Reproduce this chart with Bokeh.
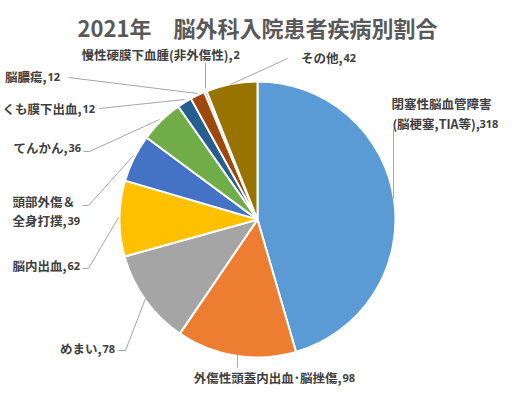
import numpy as np
from bokeh.plotting import figure
from bokeh.models import Range1d, ColumnDataSource
from bokeh.core.properties import value
from bokeh.embed import file_html
from bokeh.resources import INLINE

# ---- data ----
title_text = "2021年　脳外科入院患者疾病別割合"
categories = ["閉塞性脳血管障害\n(脳梗塞,TIA等)", "外傷性頭蓋内出血･脳挫傷", "めまい", "脳内出血",
              "頭部外傷＆\n全身打撲", "てんかん", "くも膜下出血", "脳膿瘍",
              "慢性硬膜下血腫(非外傷性)", "その他"]
values = [318, 98, 78, 62, 39, 36, 12, 12, 2, 42]

# ---- style ----
colors = ["#5B9BD5", "#ED7D31", "#A5A5A5", "#FFC000", "#4472C4",
          "#70AD47", "#255E91", "#9E480E", "#636363", "#997300"]
W, H = 514, 393
def Y(py):
    return H - py

cx, cy, R = 257, Y(219), 138

# label layout (page px): split x (end of name / start of value), y of last line,
# (x, y) of first line for two-line labels
label_layout = [
    (478, 123, (391, 103)),
    (341, 377, None),
    (101, 348, None),
    (66, 265, None),
    (66, 220, (12, 201)),
    (67, 147, None),
    (81, 108, None),
    (46, 76, None),
    (232, 54, None),
    (342, 57, None),
]
# leader lines (page px), from label side to slice
leaders = [
    [(393, 129), (393, 198)],
    [(237, 367), (237, 353)],
    [(118, 350), (125, 350), (145, 298)],
    [(82, 268), (88, 268), (118, 217)],
    [(82, 205), (88, 205), (133, 155)],
    [(83, 151), (89, 151), (159, 119)],
    [(99, 108), (184, 99)],
    [(68, 77), (197, 93)],
    [(205, 62), (205, 88)],
    [(287, 58), (230, 84)],
]

vals = np.array(values, dtype=float)
frac = vals / vals.sum()
cum_end = np.cumsum(frac)
cum_start = cum_end - frac
start_ang = np.pi / 2 - 2 * np.pi * cum_end
end_ang = np.pi / 2 - 2 * np.pi * cum_start

p = figure(width=W, height=H, output_backend="svg", toolbar_location=None,
           x_range=Range1d(0, W), y_range=Range1d(Y(H), Y(0)),
           min_border=0, outline_line_color=None)
p.xaxis.visible = False
p.yaxis.visible = False
p.grid.visible = False
p.background_fill_color = "white"

src = ColumnDataSource(dict(start=start_ang, end=end_ang, color=colors))
p.wedge(x=cx, y=cy, radius=R, start_angle="start", end_angle="end",
        fill_color="color", line_color="white", line_width=2, source=src)

# leader lines
xs = [[pt[0] for pt in l] for l in leaders]
ys = [[Y(pt[1]) for pt in l] for l in leaders]
p.multi_line(xs=xs, ys=ys, line_color="#A6A6A6", line_width=1)

name_font = value("Noto Sans CJK JP")
lbl_color = "#404040"

nx, ny, ntext = [], [], []
fx, fy, ftext = [], [], []
vx, vy, vtext = [], [], []
for cat, v, lay in zip(categories, values, label_layout):
    lines = cat.split("\n")
    sx, sy, first = lay
    nx.append(sx); ny.append(Y(sy)); ntext.append(lines[-1] + ",")
    vx.append(sx + 1); vy.append(Y(sy)); vtext.append(str(v))
    if len(lines) > 1 and first is not None:
        fx.append(first[0]); fy.append(Y(first[1])); ftext.append(lines[0])

p.text(x=nx, y=ny, text=ntext, text_font=name_font, text_font_size=value("12.5px"),
       text_font_style="bold", text_color=lbl_color, text_align="right", text_baseline="middle")
p.text(x=fx, y=fy, text=ftext, text_font=name_font, text_font_size=value("12.5px"),
       text_font_style="bold", text_color=lbl_color, text_align="left", text_baseline="middle")
p.text(x=vx, y=vy, text=vtext, text_font=value("Noto Sans"), text_font_size=value("11px"),
       text_font_style="bold", text_color=lbl_color, text_align="left", text_baseline="middle")

p.text(x=[257], y=[Y(26)], text=[title_text], text_font=name_font,
       text_font_size=value("22px"), text_font_style="bold", text_color="#595959",
       text_align="center", text_baseline="middle")

open("out.html", "w").write(file_html(p, INLINE))
